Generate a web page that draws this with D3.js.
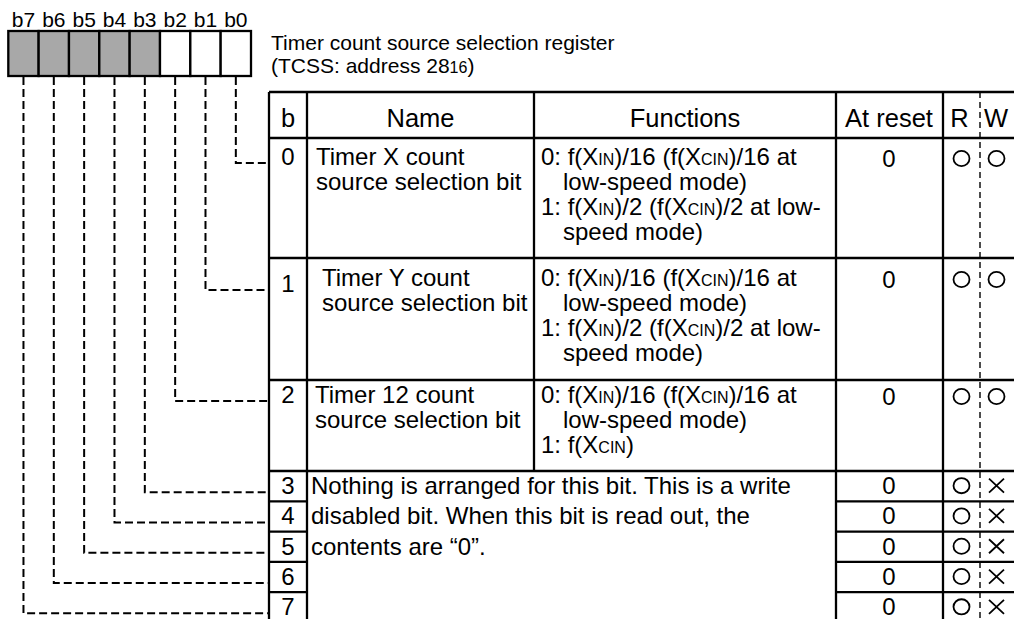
<!DOCTYPE html>
<html>
<head>
<meta charset="utf-8">
<script src="https://cdn.jsdelivr.net/npm/d3@7"></script>
<style>
  html, body { margin: 0; padding: 0; background: #fff; }
  svg { display: block; }
  text { font-family: "Liberation Sans", Arial, Helvetica, sans-serif; fill: #000; }
</style>
</head>
<body>
<svg id="chart" width="1014" height="619"></svg>
<script>
// ---------------- data ----------------
const bitLabels = ["b7", "b6", "b5", "b4", "b3", "b2", "b1", "b0"];
const bitShaded = [true, true, true, true, true, false, false, false];
const titleLines = ["Timer count source selection register", "(TCSS: address 28_{16})"];
const headers = ["b", "Name", "Functions", "At reset", "R", "W"];
const rowBits = ["0", "1", "2", "3", "4", "5", "6", "7"];
const rowNames = [
  ["Timer X count", "source selection bit"],
  ["Timer Y count", "source selection bit"],
  ["Timer 12 count", "source selection bit"]
];
const rowFunctions = [
  ["0: f(X_{IN})/16 (f(X_{CIN})/16 at", "   low-speed mode)", "1: f(X_{IN})/2 (f(X_{CIN})/2 at low-", "   speed mode)"],
  ["0: f(X_{IN})/16 (f(X_{CIN})/16 at", "   low-speed mode)", "1: f(X_{IN})/2 (f(X_{CIN})/2 at low-", "   speed mode)"],
  ["0: f(X_{IN})/16 (f(X_{CIN})/16 at", "   low-speed mode)", "1: f(X_{CIN})"]
];
const reservedText = [
  "Nothing is arranged for this bit. This is a write",
  "disabled bit. When this bit is read out, the",
  "contents are \u201C0\u201D."
];
const resetValues = ["0", "0", "0", "0", "0", "0", "0", "0"];
const readAccess = ["O", "O", "O", "O", "O", "O", "O", "O"];
const writeAccess = ["O", "O", "O", "X", "X", "X", "X", "X"];

// ---------------- layout ----------------
const svg = d3.select("#chart");
const FONT_BODY = 24, FONT_HEAD = 25.5, FONT_TITLE = 21, FONT_BIT = 21, FONT_SUB = 16;

const regX = d3.scaleBand().domain(bitLabels).range([8.3, 251]).padding(0);
const regTop = 31, regBottom = 76;

// column edges: b | Name | Functions | At reset | R | W
const colEdges = [269, 307, 534, 836, 943, 980, 1030];
// row edges: header, bit0, bit1, bit2, bit3..bit7
const rowEdges = [92, 138, 258, 380, 471, 501.3, 531.6, 561.9, 592.2, 622.5];
const rowTop = i => rowEdges[i + 1];
const rowBottom = i => rowEdges[i + 2];
const rowCenter = i => (rowTop(i) + rowBottom(i)) / 2;
// first-line baselines inside the tall rows (0..2)
const textOffset = [27, 28, 23];
const bitOffset = [27, 34, 23];
const resetOffset = [29, 30, 25];
const lineGap = 25;
const bitBaseline = i => i < 3 ? rowTop(i) + bitOffset[i] : rowCenter(i) + 8;
const resetBaseline = i => i < 3 ? rowTop(i) + resetOffset[i] : rowCenter(i) + 8;

// helper: text with _{sub} parts rendered smaller
function richText(sel, str, size) {
  const parts = str.split(/(_\{[^}]*\})/).filter(s => s.length);
  parts.forEach(p => {
    const m = p.match(/^_\{([^}]*)\}$/);
    if (m) sel.append("tspan").attr("font-size", FONT_SUB).text(m[1]);
    else sel.append("tspan").attr("font-size", size).text(p);
  });
}

// ---------------- register boxes ----------------
svg.append("g").selectAll("rect").data(bitLabels).join("rect")
  .attr("x", d => regX(d)).attr("y", regTop)
  .attr("width", regX.bandwidth()).attr("height", regBottom - regTop)
  .attr("fill", (d, i) => bitShaded[i] ? "#a8a8a8" : "#fff")
  .attr("stroke", "#000").attr("stroke-width", 2.3);

svg.append("g").selectAll("text").data(bitLabels).join("text")
  .attr("x", d => regX(d) + regX.bandwidth() / 2).attr("y", 27)
  .attr("text-anchor", "middle").attr("font-size", FONT_BIT)
  .text(d => d);

// ---------------- title ----------------
titleLines.forEach((t, i) => {
  const tx = svg.append("text").attr("x", 271).attr("y", 50 + i * 22.7);
  richText(tx, t, FONT_TITLE);
});

// ---------------- connectors ----------------
const conn = svg.append("g").attr("fill", "none").attr("stroke", "#000")
  .attr("stroke-width", 2).attr("stroke-dasharray", "8,4");
bitLabels.forEach((lab, k) => {
  const bit = 7 - k;
  const x = regX(lab) + regX.bandwidth() / 2;
  const y = bitBaseline(bit) - 2;
  conn.append("path").attr("d", d3.line()([[x, regBottom + 1], [x, y], [colEdges[0], y]]));
});

// ---------------- table lines ----------------
const lines = svg.append("g").attr("stroke", "#000").attr("stroke-width", 2.3).attr("fill", "none");
const L = (x1, y1, x2, y2) => lines.append("line").attr("x1", x1).attr("y1", y1).attr("x2", x2).attr("y2", y2);
const tableBottom = 640;
[0, 1, 2, 3, 4].forEach(i => L(colEdges[0], rowEdges[i], colEdges[6], rowEdges[i]));
[5, 6, 7, 8].forEach(i => {
  L(colEdges[0], rowEdges[i], colEdges[1], rowEdges[i]);
  L(colEdges[3], rowEdges[i], colEdges[6], rowEdges[i]);
});
L(colEdges[0], rowEdges[0], colEdges[0], tableBottom);
L(colEdges[1], rowEdges[0], colEdges[1], tableBottom);
L(colEdges[2], rowEdges[0], colEdges[2], rowEdges[4]);
L(colEdges[3], rowEdges[0], colEdges[3], tableBottom);
L(colEdges[4], rowEdges[0], colEdges[4], tableBottom);
svg.append("line").attr("x1", colEdges[5]).attr("y1", rowEdges[0]).attr("x2", colEdges[5]).attr("y2", tableBottom)
  .attr("stroke", "#000").attr("stroke-width", 1.4).attr("stroke-dasharray", "6,4");

// ---------------- header ----------------
const headX = [288, 420.5, 685, 889, 959.5, 996];
svg.append("g").selectAll("text").data(headers).join("text")
  .attr("x", (d, i) => headX[i]).attr("y", 126.5)
  .attr("text-anchor", "middle").attr("font-size", FONT_HEAD)
  .text(d => d);

// ---------------- bit numbers ----------------
svg.append("g").selectAll("text").data(rowBits).join("text")
  .attr("x", 288).attr("y", (d, i) => bitBaseline(i))
  .attr("text-anchor", "middle").attr("font-size", FONT_BODY)
  .text(d => d);

// ---------------- names ----------------
const nameX = [316, 322, 315];
rowNames.forEach((ls, r) => {
  ls.forEach((t, j) => {
    svg.append("text").attr("x", nameX[r]).attr("y", rowTop(r) + textOffset[r] + j * lineGap)
      .attr("font-size", FONT_BODY).text(t);
  });
});

// ---------------- functions ----------------
rowFunctions.forEach((ls, r) => {
  ls.forEach((t, j) => {
    const indent = t.startsWith("   ");
    const tx = svg.append("text").attr("x", indent ? 563 : 541)
      .attr("y", rowTop(r) + textOffset[r] + j * lineGap);
    richText(tx, t.trim(), FONT_BODY);
  });
});

// ---------------- reserved bits text ----------------
reservedText.forEach((t, j) => {
  svg.append("text").attr("x", 311).attr("y", rowCenter(3 + j) + 8)
    .attr("font-size", FONT_BODY).text(t);
});

// ---------------- at reset ----------------
svg.append("g").selectAll("text").data(resetValues).join("text")
  .attr("x", 889).attr("y", (d, i) => resetBaseline(i))
  .attr("text-anchor", "middle").attr("font-size", FONT_BODY)
  .text(d => d);

// ---------------- R / W marks ----------------
function mark(g, kind, cx, cy) {
  if (kind === "O") {
    g.append("ellipse").attr("cx", cx).attr("cy", cy).attr("rx", 8).attr("ry", 7.6)
      .attr("fill", "none").attr("stroke", "#000").attr("stroke-width", 1.8);
  } else {
    g.append("path").attr("d", `M${cx - 7.5},${cy - 7}L${cx + 7.5},${cy + 7}M${cx + 7.5},${cy - 7}L${cx - 7.5},${cy + 7}`)
      .attr("stroke", "#000").attr("stroke-width", 1.8).attr("fill", "none");
  }
}
const marks = svg.append("g");
rowBits.forEach((b, i) => {
  const cy = resetBaseline(i) - 8.5;
  mark(marks, readAccess[i], 961.5, cy);
  mark(marks, writeAccess[i], 996.5, cy);
});
</script>
</body>
</html>
